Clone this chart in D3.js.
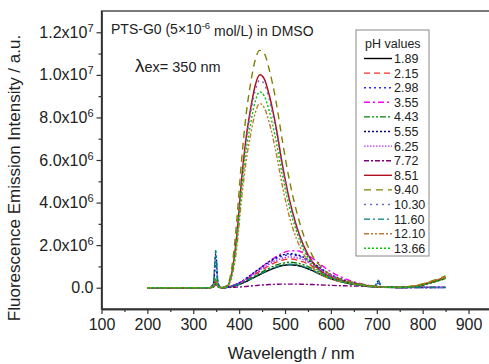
<!DOCTYPE html>
<html>
<head>
<meta charset="utf-8">
<script src="https://cdn.jsdelivr.net/npm/d3@7"></script>
<style>
  body { margin: 0; background: #fff; }
  svg { display: block; font-family: "Liberation Sans", Arial, sans-serif; }
</style>
</head>
<body>
<svg id="chart" width="489" height="364"></svg>
<script>
// longueurs d'onde communes (nm)
var wavelengths = [200, 335, 344, 349, 354, 362, 375, 385, 395, 405, 415, 425, 435, 445, 455, 465, 480, 495, 510, 525, 540, 560, 580, 600, 630, 665, 695, 703, 711, 760, 790, 820, 850];

// intensités en 1e6 a.u.
var ph189  = [0, 0, 0.05, 0.35, 0.05, 0, 0.02, 0.06, 0.12, 0.19, 0.29, 0.4, 0.51, 0.62, 0.72, 0.82, 0.95, 1.04, 1.08, 1.05, 0.97, 0.8, 0.59, 0.42, 0.24, 0.11, 0.04, 0.04, 0.02, 0.01, 0.08, 0.26, 0.46];
var ph215  = [0, 0, 0.05, 0.35, 0.05, 0, 0.03, 0.08, 0.15, 0.24, 0.36, 0.5, 0.63, 0.77, 0.9, 1.03, 1.19, 1.3, 1.35, 1.31, 1.21, 1.0, 0.74, 0.53, 0.3, 0.13, 0.05, 0.04, 0.03, 0.01, 0.09, 0.27, 0.45];
var ph298  = [0, 0, 0.15, 1.1, 0.15, 0, 0.03, 0.09, 0.17, 0.28, 0.42, 0.57, 0.73, 0.88, 1.04, 1.18, 1.36, 1.49, 1.55, 1.5, 1.39, 1.15, 0.85, 0.6, 0.34, 0.16, 0.06, 0.2, 0.03, 0.01, 0.01, 0.01, 0.01];
var ph355  = [0, 0, 0.05, 0.3, 0.05, 0, 0.03, 0.08, 0.16, 0.27, 0.41, 0.57, 0.74, 0.9, 1.07, 1.23, 1.45, 1.63, 1.73, 1.74, 1.64, 1.38, 1.05, 0.75, 0.43, 0.19, 0.07, 0.05, 0.03, 0.01, 0.08, 0.25, 0.44];
var ph443  = [0, 0, 0.06, 0.4, 0.06, 0, 0.02, 0.07, 0.13, 0.22, 0.33, 0.44, 0.56, 0.68, 0.8, 0.91, 1.06, 1.15, 1.2, 1.16, 1.08, 0.89, 0.66, 0.47, 0.26, 0.12, 0.05, 0.04, 0.02, 0.01, 0.07, 0.24, 0.42];
var ph555  = [0, 0, 0.2, 1.6, 0.2, 0, 0.03, 0.1, 0.18, 0.29, 0.43, 0.59, 0.75, 0.91, 1.07, 1.22, 1.41, 1.54, 1.6, 1.55, 1.44, 1.18, 0.88, 0.62, 0.35, 0.16, 0.06, 0.3, 0.04, 0.01, 0.01, 0.01, 0.01];
var ph625  = [0, 0, 0.06, 0.4, 0.06, 0, 0.03, 0.09, 0.16, 0.26, 0.39, 0.54, 0.68, 0.83, 0.97, 1.1, 1.28, 1.39, 1.45, 1.41, 1.31, 1.07, 0.8, 0.57, 0.32, 0.15, 0.06, 0.05, 0.03, 0.01, 0.01, 0.01, 0.01];
var ph772  = [0, 0, 0.03, 0.15, 0.03, 0, 0.01, 0.02, 0.03, 0.04, 0.06, 0.08, 0.1, 0.12, 0.13, 0.15, 0.16, 0.17, 0.17, 0.17, 0.16, 0.15, 0.13, 0.11, 0.09, 0.07, 0.05, 0.05, 0.05, 0.04, 0.03, 0.03, 0.03];
var ph851  = [0, 0, 0.05, 0.35, 0.05, 0, 0.1, 0.8, 2.5, 5.0, 7.0, 8.4, 9.5, 10.0, 9.8, 9.1, 7.6, 5.7, 4.1, 2.9, 2.0, 1.2, 0.75, 0.5, 0.3, 0.15, 0.06, 0.05, 0.04, 0.03, 0.1, 0.28, 0.48];
var ph940  = [0, 0, 0.06, 0.4, 0.06, 0, 0.15, 1.1, 3.2, 5.9, 8.1, 9.6, 10.7, 11.15, 11.0, 10.3, 8.8, 6.8, 5.0, 3.6, 2.5, 1.5, 0.95, 0.6, 0.35, 0.18, 0.08, 0.06, 0.05, 0.04, 0.13, 0.32, 0.55];
var ph1030 = [0, 0, 0.2, 1.5, 0.2, 0, 0.1, 0.78, 2.4, 4.85, 6.8, 8.2, 9.25, 9.75, 9.55, 8.9, 7.4, 5.55, 4.0, 2.8, 1.95, 1.17, 0.73, 0.49, 0.29, 0.15, 0.06, 0.3, 0.04, 0.02, 0.02, 0.02, 0.02];
var ph1160 = [0, 0, 0.2, 1.75, 0.2, 0, 0.02, 0.07, 0.12, 0.2, 0.3, 0.41, 0.52, 0.63, 0.74, 0.84, 0.97, 1.06, 1.1, 1.07, 0.99, 0.81, 0.6, 0.43, 0.24, 0.11, 0.04, 0.35, 0.03, 0.01, 0.01, 0.01, 0.01];
var ph1210 = [0, 0, 0.05, 0.35, 0.05, 0, 0.08, 0.6, 1.9, 4.1, 5.9, 7.2, 8.2, 8.65, 8.45, 7.8, 6.4, 4.7, 3.3, 2.3, 1.6, 0.95, 0.6, 0.4, 0.25, 0.12, 0.05, 0.04, 0.03, 0.03, 0.12, 0.3, 0.5];
var ph1366 = [0, 0, 0.05, 0.35, 0.05, 0, 0.09, 0.7, 2.2, 4.5, 6.4, 7.7, 8.75, 9.2, 9.0, 8.35, 6.95, 5.2, 3.75, 2.65, 1.82, 1.1, 0.68, 0.46, 0.27, 0.13, 0.05, 0.04, 0.03, 0.02, 0.08, 0.25, 0.44];

var phLabels = ["1.89", "2.15", "2.98", "3.55", "4.43", "5.55", "6.25", "7.72", "8.51", "9.40", "10.30", "11.60", "12.10", "13.66"];
var phValues = [ph189, ph215, ph298, ph355, ph443, ph555, ph625, ph772, ph851, ph940, ph1030, ph1160, ph1210, ph1366];

var xTicks = [100, 200, 300, 400, 500, 600, 700, 800, 900];
var yTicks = [0, 2, 4, 6, 8, 10, 12];

// styles des courbes
var colors = ["#000000", "#ff2a2a", "#2a2aff", "#ff00ff", "#008000", "#000080", "#b030ff", "#800080", "#b01020", "#808000", "#6a6ac8", "#008080", "#c07830", "#00c800"];
var dashes = ["none", "6,4", "2,3", "6,3,2,3", "6,2,2,2,2,2", "2,2", "1.5,1.5", "5,2,2,2", "none", "7,5", "2,4", "6,3,2,3", "5,2,2,2,2,2", "2,2"];

var svg = d3.select("#chart");
var W = 489, H = 364;

var x = d3.scaleLinear().domain([100, 950]).range([101.5, 101.5 + 850 * 0.4588]);
var y = d3.scaleLinear().domain([-1, 13]).range([309, 11]);

// cadre
svg.append("rect")
    .attr("x", x(100)).attr("y", y(13))
    .attr("width", x(950) - x(100)).attr("height", y(-1) - y(13))
    .attr("fill", "none").attr("stroke", "#333").attr("stroke-width", 1.3);

// axes
var gx = svg.append("g").attr("transform", "translate(0," + y(-1) + ")");
gx.call(d3.axisBottom(x).tickValues(xTicks).tickSize(5).tickPadding(5).tickFormat(d3.format("d")).tickSizeOuter(0));
var gxm = svg.append("g").attr("transform", "translate(0," + y(-1) + ")");
gxm.call(d3.axisBottom(x).tickValues(d3.range(150, 900, 100)).tickSize(3).tickFormat("").tickSizeOuter(0));

var gy = svg.append("g").attr("transform", "translate(" + x(100) + ",0)");
gy.call(d3.axisLeft(y).tickValues(yTicks).tickSize(5).tickPadding(3).tickFormat("").tickSizeOuter(0));
var gym = svg.append("g").attr("transform", "translate(" + x(100) + ",0)");
gym.call(d3.axisLeft(y).tickValues(d3.range(1, 13, 2)).tickSize(3).tickFormat("").tickSizeOuter(0));

[gx, gxm, gy, gym].forEach(function(g) {
    g.select(".domain").attr("stroke", "#333").attr("stroke-width", 1.3);
    g.selectAll(".tick line").attr("stroke", "#333").attr("stroke-width", 1.2);
});
gx.selectAll(".tick text").attr("font-size", 16).attr("fill", "#222").attr("font-family", "Liberation Sans, Arial, sans-serif");

// étiquettes y avec exposant
gy.selectAll(".tick text")
    .attr("font-size", 16).attr("fill", "#222").attr("font-family", "Liberation Sans, Arial, sans-serif")
    .each(function(d) {
        var t = d3.select(this);
        if (d === 0) { t.text("0.0"); return; }
        var exp = d >= 10 ? 7 : 6;
        var mant = d >= 10 ? d / 10 : d;
        t.append("tspan").text(mant.toFixed(1) + "x10");
        t.append("tspan").attr("dy", "-0.55em").attr("font-size", 11).text(exp);
    });

// titres des axes
svg.append("text")
    .attr("x", (x(100) + W) / 2 - 4).attr("y", 359)
    .attr("text-anchor", "middle").attr("font-size", 17).attr("fill", "#222")
    .text("Wavelength / nm");

svg.append("text")
    .attr("transform", "translate(20,178) rotate(-90)")
    .attr("text-anchor", "middle").attr("font-size", 17).attr("fill", "#222")
    .text("Fluorescence Emission Intensity / a.u.");

// courbes
var line = d3.line()
    .x(function(d, i) { return x(wavelengths[i]); })
    .y(function(d) { return y(d); })
    .curve(d3.curveMonotoneX);

svg.append("g").selectAll("path")
    .data(phValues)
    .enter().append("path")
    .attr("d", line)
    .attr("fill", "none")
    .attr("stroke", function(d, i) { return colors[i]; })
    .attr("stroke-width", function(d, i) { return (i === 8 || i === 0) ? 1.5 : 1.4; })
    .attr("stroke-dasharray", function(d, i) { return dashes[i]; });

// annotations
var t1 = svg.append("text").attr("x", 111).attr("y", 34).attr("font-size", 14).attr("fill", "#222");
t1.append("tspan").text("PTS-G0 (5\u00d710");
t1.append("tspan").attr("dy", "-0.5em").attr("font-size", 9.5).text("-6");
t1.append("tspan").attr("dy", "0.5em").text(" mol/L) in DMSO");

var t2 = svg.append("text").attr("x", 135).attr("y", 72).attr("fill", "#222");
t2.append("tspan").attr("font-size", 19).text("\u03bb");
t2.append("tspan").attr("font-size", 14.5).text("ex= 350 nm");

// légende
var lg = svg.append("g");
lg.append("rect")
    .attr("x", 356).attr("y", 30).attr("width", 73).attr("height", 226)
    .attr("fill", "#fff").attr("stroke", "#888").attr("stroke-width", 1);
lg.append("text").attr("x", 365).attr("y", 48).attr("font-size", 12.5).attr("fill", "#222").text("pH values");

var item = lg.selectAll("g.item")
    .data(phLabels)
    .enter().append("g")
    .attr("class", "item")
    .attr("transform", function(d, i) { return "translate(0," + (58.5 + i * 14.6) + ")"; });
item.append("line")
    .attr("x1", 364).attr("x2", 392).attr("y1", 0).attr("y2", 0)
    .attr("stroke", function(d, i) { return colors[i]; })
    .attr("stroke-width", 1.4)
    .attr("stroke-dasharray", function(d, i) { return dashes[i]; });
item.append("text")
    .attr("x", 394).attr("y", 4.5)
    .attr("font-size", 12.5).attr("fill", "#222")
    .text(function(d) { return d; });
</script>
</body>
</html>
